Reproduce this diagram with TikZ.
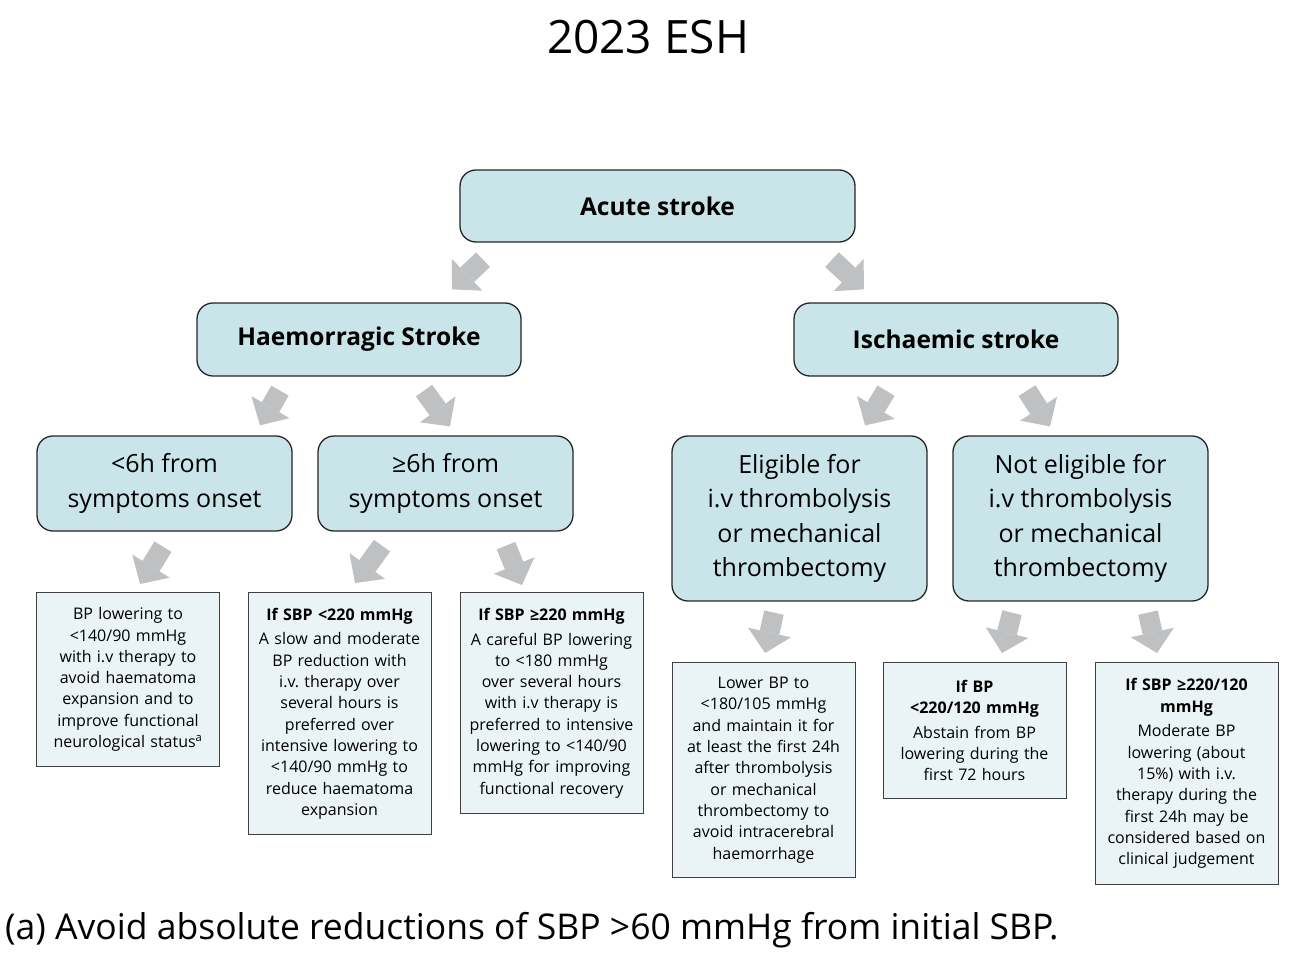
\documentclass[tikz,border=0pt]{standalone}
\usepackage{fontspec}
\setmainfont{Open Sans}
\usetikzlibrary{positioning,calc,arrows.meta}
\frenchspacing
\definecolor{boxblue}{HTML}{C9E5EA}
\definecolor{leafblue}{HTML}{EAF4F6}
\definecolor{arrgray}{HTML}{BFC0C2}
\tikzset{mainbox/.style={draw=black!85,line width=1.3pt,fill=boxblue,rounded corners=16pt,align=center,inner sep=0pt,font=\fontsize{25}{34.5}\selectfont}  }
\tikzset{headbox/.style={mainbox,font=\bfseries\fontsize{24.5}{30}\selectfont}  }
\tikzset{leafbox/.style={draw=black!75,line width=1pt,fill=leafblue,anchor=north,minimum width=183pt,text width=176pt,align=center,inner sep=0pt,font=\fontsize{16}{21.3}\selectfont}  }
\tikzset{bigarr/.style={arrgray,line width=20pt,-{Triangle[length=21pt,width=44pt,line width=0pt]}}  }

\begin{document}
\begin{tikzpicture}[x=1pt,y=-1pt]
\path[use as bounding box,fill=white] (0,0) rectangle (1289,961);

\node[font=\fontsize{46}{50}\selectfont] (title) at (648,37) {2023 ESH};

% upper levels
\node[headbox,minimum width=395pt,minimum height=72pt] (acute) at (657.5,206) {Acute stroke};
\node[headbox,minimum width=324pt,minimum height=73pt] (haem) at (359,339.5) {Haemorragic Stroke};
\node[headbox,minimum width=324pt,minimum height=73pt] (isch) at (956,339.5) {Ischaemic stroke};

\node[mainbox,minimum width=255pt,minimum height=95pt] (lt6) at (164.5,483.5) {<6h from\\ symptoms onset};
\node[mainbox,minimum width=255pt,minimum height=95pt] (ge6) at (445.5,483.5) {≥6h from\\ symptoms onset};
\node[mainbox,minimum width=255pt,minimum height=165pt] (elig) at (799.5,518.5) {Eligible for\\ i.v thrombolysis\\ or mechanical\\ thrombectomy};
\node[mainbox,minimum width=255pt,minimum height=165pt] (nelig) at (1080.5,518.5) {Not eligible for\\ i.v thrombolysis\\ or mechanical\\ thrombectomy};

% recommendations
\node[leafbox,minimum height=174pt] (lf1) at (128,592) {BP lowering to\\ <140/90 mmHg\\ with i.v therapy to\\ avoid haematoma\\ expansion and to\\ improve functional\\ neurological status\textsuperscript{a}};
\node[leafbox,minimum height=242pt] (lf2) at (339.5,592) {\textbf{If SBP <220 mmHg}\\[3.5pt] A slow and moderate\\ BP reduction with\\ i.v. therapy over\\ several hours is\\ preferred over\\ intensive lowering to\\ <140/90 mmHg to\\ reduce haematoma\\ expansion};
\node[leafbox,minimum height=221pt] (lf3) at (551.5,592) {\textbf{If SBP ≥220 mmHg}\\[3.5pt] A careful BP lowering\\ to <180 mmHg\\ over several hours\\ with i.v therapy is\\ preferred to intensive\\ lowering to <140/90\\ mmHg for improving\\ functional recovery};
\node[leafbox,minimum height=215pt] (lf4) at (763.5,662) {Lower BP to\\ <180/105 mmHg\\ and maintain it for\\ at least the first 24h\\ after thrombolysis\\ or mechanical\\ thrombectomy to\\ avoid intracerebral\\ haemorrhage};
\node[leafbox,minimum height=136pt] (lf5) at (974.5,662) {\textbf{If BP}\\ \textbf{<220/120 mmHg}\\[3.5pt] Abstain from BP\\ lowering during the\\ first 72 hours};
\node[leafbox,minimum height=222pt] (lf6) at (1186.5,662) {\textbf{If SBP ≥220/120}\\ \textbf{mmHg}\\[3.5pt] Moderate BP\\ lowering (about\\ 15\%) with i.v.\\ therapy during the\\ first 24h may be\\ considered based on\\ clinical judgement};

% block arrows
\draw[bigarr] ($(acute.south)+(-174.5,17)$) -- ($(haem.north)+(93,-13)$);
\draw[bigarr] ($(acute.south)+(174.5,17)$) -- ($(isch.north)+(-92,-13)$);
\draw[bigarr] ($(haem.south)+(-79,14)$) -- ($(lt6.north)+(95.5,-10)$);
\draw[bigarr] ($(haem.south)+(65,14)$) -- ($(ge6.north)+(4.5,-9)$);
\draw[bigarr] ($(isch.south)+(-70,14)$) -- ($(elig.north)+(65.5,-10)$);
\draw[bigarr] ($(isch.south)+(71,14)$) -- ($(nelig.north)+(-30.5,-9)$);
\draw[bigarr] ($(lt6.south)+(-1.5,15)$) -- ($(lf1.north)+(12,-8)$);
\draw[bigarr] ($(ge6.south)+(-63.5,14)$) -- ($(lf2.north)+(15.5,-9)$);
\draw[bigarr] ($(ge6.south)+(60.5,14)$) -- ($(lf3.north)+(-29.5,-7)$);
\draw[bigarr] ($(elig.south)+(-25.5,11)$) -- ($(lf4.north)+(1.5,-9)$);
\draw[bigarr] ($(nelig.south)+(-68.5,11)$) -- ($(lf5.north)+(27.5,-9)$);
\draw[bigarr] ($(nelig.south)+(67.5,11)$) -- ($(lf6.north)+(-29.5,-9)$);

\node[anchor=west,inner sep=0pt,font=\fontsize{35.5}{40}\selectfont] (note) at (5,930) {(a) Avoid absolute reductions of SBP >60 mmHg from initial SBP.};
\end{tikzpicture}
\end{document}
